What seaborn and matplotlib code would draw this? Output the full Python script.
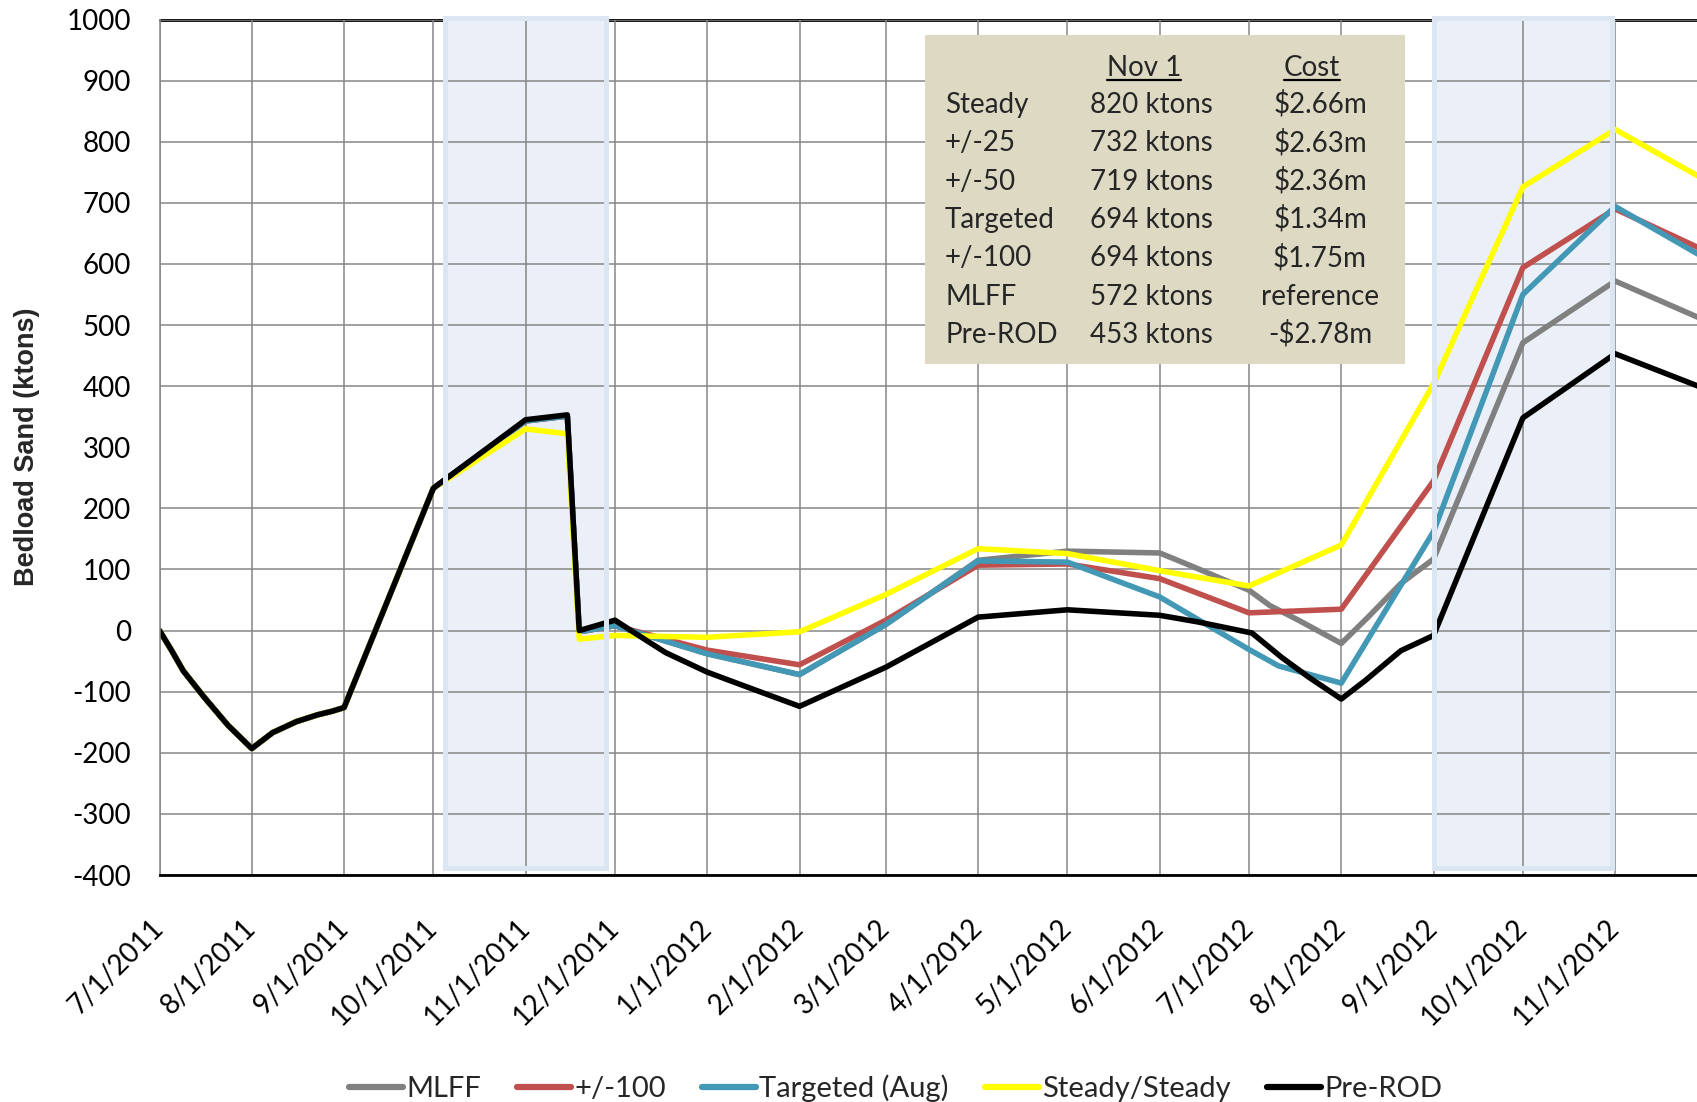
import matplotlib
matplotlib.use("Agg")
import matplotlib.pyplot as plt
import pandas as pd
import seaborn as sns
from matplotlib.lines import Line2D
from matplotlib.patches import Rectangle

# DATOS

series_names = ["MLFF", "+/-100", "Targeted (Aug)", "Steady/Steady", "Pre-ROD"]
series_colors = ["#808080", "#C0504D", "#4298B5", "#FFFF00", "#000000"]

# historia comun (todas las series iguales hasta 10/1/2011)
shared_dates = ["2011-07-01", "2011-07-05", "2011-07-09", "2011-07-16", "2011-07-24",
                "2011-08-01", "2011-08-08", "2011-08-16", "2011-08-23", "2011-08-28",
                "2011-09-01", "2011-10-01"]
shared_vals = [0, -32, -66, -109, -155, -193, -167, -149, -138, -132, -126, 233]

mlff_dates = ["2011-11-01", "2011-11-15", "2011-11-19", "2011-12-01", "2012-01-01",
              "2012-02-01", "2012-03-01", "2012-04-01", "2012-05-01", "2012-06-01",
              "2012-06-11", "2012-07-01", "2012-07-08", "2012-07-18", "2012-08-01",
              "2012-08-10", "2012-08-21", "2012-09-01", "2012-10-01", "2012-11-01",
              "2012-12-01"]
mlff_vals = [343, 351, -2, 8, -38, -72, 10, 115, 130, 127,
             107, 66, 41, 16, -21, 22, 77, 117, 471, 572, 508]

pm100_dates = ["2011-11-01", "2011-11-15", "2011-11-19", "2011-12-01", "2012-01-01",
               "2012-02-01", "2012-03-01", "2012-04-01", "2012-05-01", "2012-06-01",
               "2012-07-01", "2012-08-01", "2012-09-01", "2012-10-01", "2012-11-01",
               "2012-12-01"]
pm100_vals = [343, 351, -2, 8, -32, -56, 17, 107, 109, 85,
              29, 35, 245, 594, 690, 622]

targeted_dates = ["2011-11-01", "2011-11-15", "2011-11-19", "2011-12-01", "2012-01-01",
                  "2012-02-01", "2012-03-01", "2012-04-01", "2012-05-01", "2012-06-01",
                  "2012-07-01", "2012-07-11", "2012-08-01", "2012-09-01", "2012-10-01",
                  "2012-11-01", "2012-12-01"]
targeted_vals = [343, 351, -2, 8, -38, -72, 10, 114, 112, 55,
                 -31, -58, -86, 162, 550, 694, 610]

steady_dates = ["2011-11-01", "2011-11-15", "2011-11-19", "2011-12-01", "2012-01-01",
                "2012-02-01", "2012-03-01", "2012-04-01", "2012-05-01", "2012-06-01",
                "2012-07-01", "2012-08-01", "2012-09-01", "2012-10-01", "2012-11-01",
                "2012-12-01"]
steady_vals = [330, 322, -14, -8, -11, -2, 59, 134, 126, 98,
               73, 140, 404, 726, 820, 738]

prerod_dates = ["2011-11-01", "2011-11-15", "2011-11-19", "2011-12-01", "2011-12-08",
                "2011-12-18", "2012-01-01", "2012-01-12", "2012-02-01", "2012-03-01",
                "2012-04-01", "2012-05-01", "2012-06-01", "2012-06-14", "2012-07-02",
                "2012-07-12", "2012-07-21", "2012-08-01", "2012-08-09", "2012-08-21",
                "2012-09-01", "2012-10-01", "2012-11-01", "2012-12-01"]
prerod_vals = [345, 353, 0, 17, -5, -36, -68, -88, -124, -60,
               22, 34, 25, 14, -4, -44, -76, -112, -82, -33,
               -8, 348, 453, 396]

tails = {
    "MLFF": (mlff_dates, mlff_vals),
    "+/-100": (pm100_dates, pm100_vals),
    "Targeted (Aug)": (targeted_dates, targeted_vals),
    "Steady/Steady": (steady_dates, steady_vals),
    "Pre-ROD": (prerod_dates, prerod_vals),
}

month_ticks = pd.date_range("2011-07-01", "2012-11-01", freq="MS")
month_labels = [f"{d.month}/{d.day}/{d.year}" for d in month_ticks]

shade_spans = [("2011-10-05", "2011-11-28"), ("2012-09-01", "2012-10-31")]

table_cases = ["Steady", "+/-25", "+/-50", "Targeted", "+/-100", "MLFF", "Pre-ROD"]
table_nov1 = ["820 ktons", "732 ktons", "719 ktons", "694 ktons", "694 ktons",
              "572 ktons", "453 ktons"]
table_cost = ["$2.66m", "$2.63m", "$2.36m", "$1.34m", "$1.75m", "reference", "-$2.78m"]

# TABLA LARGA

rows = []
for name in series_names:
    d_tail, v_tail = tails[name]
    for d, v in zip(shared_dates + d_tail, shared_vals + v_tail):
        rows.append({"date": pd.Timestamp(d), "value": v, "series": name})
df = pd.DataFrame(rows)

# FIGURA

W, H = 1697, 1102
sns.set_style("white")
plt.rcParams["font.family"] = ["Lato", "DejaVu Sans"]
plt.rcParams["axes.unicode_minus"] = False

fig = plt.figure(figsize=(W / 100, H / 100), dpi=100)
ax_left, ax_top, ax_bottom = 159.5, 19.5, 875
ax = fig.add_axes([ax_left / W, 1 - ax_bottom / H, 1 - ax_left / W, (ax_bottom - ax_top) / H])

sns.lineplot(
    data=df,
    x="date",
    y="value",
    hue="series",
    hue_order=series_names,
    palette=series_colors,
    linewidth=4.0,
    legend=False,
    ax=ax,
    zorder=2
)

ax.set_xlim(pd.Timestamp("2011-07-01"), pd.Timestamp("2012-11-28 12:00"))
ax.set_ylim(-400, 1000)
ax.set_yticks(range(-400, 1001, 100))
ax.set_xticks(month_ticks)
ax.set_xticklabels(month_labels, rotation=45, ha="right", va="center",
                   rotation_mode="anchor")
ax.set_xlabel("")
ax.set_ylabel("")

ax.set_axisbelow(True)
ax.grid(True, color="#868686", linewidth=1.1)
for t in ax.yaxis.get_major_ticks():
    if t.get_loc() == 1000:
        t.gridline.set_visible(False)

ax.tick_params(axis="y", length=8, width=1.1, color="#868686", pad=12.5,
               labelsize=20, labelcolor="black")
ax.tick_params(axis="x", length=0, pad=35, labelsize=20, labelcolor="black")

ax.spines["top"].set_visible(False)
ax.spines["right"].set_visible(False)
ax.spines["left"].set_color("#868686")
ax.spines["left"].set_linewidth(1.1)
ax.spines["bottom"].set_color("black")
ax.spines["bottom"].set_linewidth(2)

# linea negra superior (queda debajo de las zonas sombreadas)
ax.axhline(1000, color="black", linewidth=2, zorder=0.1, clip_on=False)

# ZONAS SOMBREADAS

for start, end in shade_spans:
    x0 = pd.Timestamp(start)
    x1 = pd.Timestamp(end)
    ax.add_patch(Rectangle((x0, -388), x1 - x0, 1390, facecolor="#EBF0F8",
                           edgecolor="none", zorder=0.3, clip_on=False))
    ax.add_patch(Rectangle((x0, -388), x1 - x0, 1390, facecolor="none",
                           edgecolor="#DCE6F2", linewidth=3.6, zorder=3,
                           clip_on=False))

# CUADRO DE TEXTO

ax.add_patch(Rectangle((925 / W, 1 - 364 / H), 480 / W, 329 / H,
                       transform=fig.transFigure, facecolor="#DDD9C3",
                       edgecolor="none", zorder=5))

fs_tab = 20
hdr_nov = fig.text(1144 / W, 1 - 76 / H, "Nov 1", ha="center", va="baseline", fontsize=fs_tab)
hdr_cost = fig.text(1312 / W, 1 - 76 / H, "Cost", ha="center", va="baseline", fontsize=fs_tab)
for i, (case, nov, cost) in enumerate(zip(table_cases, table_nov1, table_cost)):
    yb = 1 - (113 + 38.3 * i) / H
    fig.text(945 / W, yb, case, ha="left", va="baseline", fontsize=fs_tab)
    fig.text(1151 / W, yb, nov, ha="center", va="baseline", fontsize=fs_tab)
    fig.text(1320 / W, yb, cost, ha="center", va="baseline", fontsize=fs_tab)

fig.canvas.draw()
renderer = fig.canvas.get_renderer()
for hdr in [hdr_nov, hdr_cost]:
    bb = hdr.get_window_extent(renderer)
    fig.add_artist(Line2D([bb.x0 / W, bb.x1 / W], [1 - 79.5 / H, 1 - 79.5 / H],
                          transform=fig.transFigure, color="black", linewidth=1.6))

# TITULO EJE Y

fig.text(27 / W, 1 - 447 / H, "Bedload Sand (ktons)", rotation=90, ha="center",
         va="center", fontsize=19.5, fontweight="bold", family="Liberation Sans")

# LEYENDA

handles = [
    Line2D([], [], color=c, linewidth=4.5, solid_capstyle="round")
    for c in series_colors
]
fig.legend(
    handles,
    series_names,
    loc="center",
    bbox_to_anchor=(0.5277, 0.0127),
    ncol=5,
    frameon=False,
    fontsize=21,
    handlelength=1.85,
    handletextpad=0.1,
    columnspacing=1.25,
    borderpad=0,
    borderaxespad=0
)

fig.savefig("out.png", dpi=100)
plt.close()
